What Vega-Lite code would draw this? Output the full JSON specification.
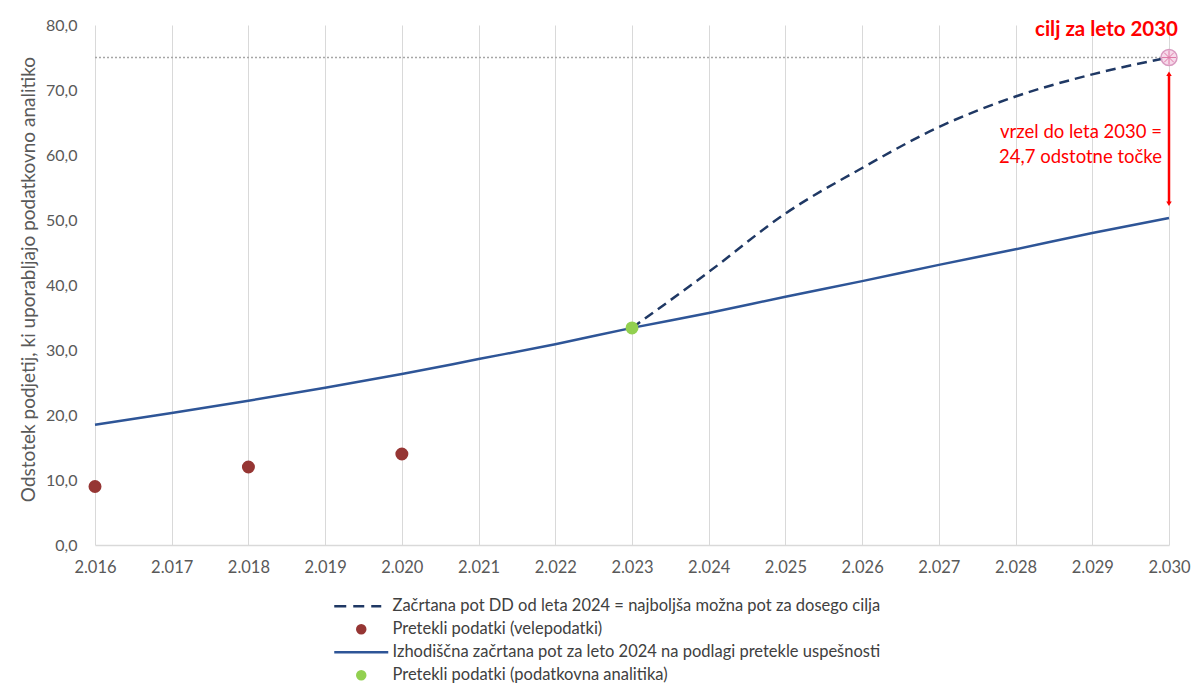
{
  "$schema": "https://vega.github.io/schema/vega-lite/v6.json",
  "autosize": "none",
  "width": 1074,
  "height": 520,
  "padding": {"left": 95, "top": 25, "right": 32, "bottom": 141},
  "background": "white",
  "config": {"view": {"stroke": null}, "font": "Lato"},
  "datasets": {
    "baseline": [
      {"year": 2016, "value": 18.5},
      {"year": 2017, "value": 20.3},
      {"year": 2018, "value": 22.2},
      {"year": 2019, "value": 24.2},
      {"year": 2020, "value": 26.3},
      {"year": 2021, "value": 28.6},
      {"year": 2022, "value": 30.9},
      {"year": 2023, "value": 33.4},
      {"year": 2024, "value": 35.7},
      {"year": 2025, "value": 38.2},
      {"year": 2026, "value": 40.6},
      {"year": 2027, "value": 43.1},
      {"year": 2028, "value": 45.5},
      {"year": 2029, "value": 48.0},
      {"year": 2030, "value": 50.3}
    ],
    "pathway": [
      {"year": 2023, "value": 33.4},
      {"year": 2024, "value": 42.0},
      {"year": 2025, "value": 51.0},
      {"year": 2026, "value": 58.0},
      {"year": 2027, "value": 64.3},
      {"year": 2028, "value": 69.0},
      {"year": 2029, "value": 72.4},
      {"year": 2030, "value": 75.0}
    ],
    "past": [
      {"year": 2016, "value": 9.0, "series": "Pretekli podatki (velepodatki)"},
      {"year": 2018, "value": 12.0, "series": "Pretekli podatki (velepodatki)"},
      {"year": 2020, "value": 14.0, "series": "Pretekli podatki (velepodatki)"},
      {"year": 2023, "value": 33.4, "series": "Pretekli podatki (podatkovna analitika)"}
    ],
    "goal": [
      {"year": 2030, "target": 75.0}
    ]
  },
  "layer": [
    {
      "data": {"name": "goal"},
      "mark": {"type": "rule", "color": "#a6a6a6", "strokeWidth": 1.5, "strokeDash": [2, 2]},
      "encoding": {
        "y": {"field": "target", "type": "quantitative", "scale": {"domain": [0, 80], "nice": false, "zero": false}}
      }
    },
    {
      "data": {"name": "baseline"},
      "mark": {"type": "line", "color": "#2e5597", "strokeWidth": 2.5, "interpolate": "monotone"},
      "encoding": {
        "x": {
          "field": "year", "type": "quantitative",
          "scale": {"domain": [2016, 2030], "nice": false, "zero": false},
          "axis": {
            "title": null,
            "values": [2016, 2017, 2018, 2019, 2020, 2021, 2022, 2023, 2024, 2025, 2026, 2027, 2028, 2029, 2030],
            "labelExpr": "substring(toString(datum.value), 0, 1) + '.' + substring(toString(datum.value), 1)",
            "labelFlush": false,
            "labelOverlap": false,
            "grid": true, "gridColor": "#d9d9d9", "gridWidth": 1,
            "domain": true, "domainColor": "#d9d9d9", "domainWidth": 1.5,
            "ticks": false,
            "labelFont": "Lato", "labelFontSize": 16.5, "labelColor": "#595959", "labelPadding": 14
          }
        },
        "y": {
          "field": "value", "type": "quantitative",
          "scale": {"domain": [0, 80], "nice": false, "zero": false},
          "axis": {
            "title": "Odstotek podjetij, ki uporabljajo podatkovno analitiko",
            "titleFont": "Lato", "titleFontSize": 19, "titleFontWeight": "normal", "titleColor": "#595959", "titlePadding": 7,
            "titleY": 254,
            "values": [0, 10, 20, 30, 40, 50, 60, 70, 80],
            "labelExpr": "replace(format(datum.value, '.1f'), '.', ',')",
            "grid": false, "domain": false, "ticks": false,
            "labelFont": "Lato", "labelFontSize": 16, "labelColor": "#595959", "labelPadding": 18
          }
        }
      }
    },
    {
      "data": {"name": "pathway"},
      "mark": {"type": "line", "color": "#1f3864", "strokeWidth": 2.5, "strokeDash": [10, 6], "interpolate": "monotone"},
      "encoding": {
        "x": {"field": "year", "type": "quantitative", "scale": {"domain": [2016, 2030], "nice": false, "zero": false}},
        "y": {"field": "value", "type": "quantitative", "scale": {"domain": [0, 80], "nice": false, "zero": false}}
      }
    },
    {
      "data": {"name": "past"},
      "mark": {"type": "point", "filled": true, "opacity": 1, "size": 121, "strokeWidth": 2},
      "encoding": {
        "x": {"field": "year", "type": "quantitative", "scale": {"domain": [2016, 2030], "nice": false, "zero": false}},
        "y": {"field": "value", "type": "quantitative", "scale": {"domain": [0, 80], "nice": false, "zero": false}},
        "fill": {
          "field": "series", "type": "nominal",
          "scale": {
            "domain": [
              "Začrtana pot DD od leta 2024 = najboljša možna pot za dosego cilja",
              "Pretekli podatki (velepodatki)",
              "Izhodiščna začrtana pot za leto 2024 na podlagi pretekle uspešnosti",
              "Pretekli podatki (podatkovna analitika)"
            ],
            "range": ["#1f3864", "#963634", "#2e5597", "#92d050"]
          },
          "legend": {
            "title": null,
            "orient": "none",
            "legendX": 258,
            "legendY": 573,
            "direction": "vertical",
            "labelFont": "Lato",
            "labelFontSize": 16.5,
            "labelColor": "#404040",
            "labelOffset": 23,
            "labelLimit": 800,
            "symbolSize": 64,
            "symbolStrokeWidth": 2.5,
            "symbolOpacity": 1,
            "rowPadding": 5
          }
        },
        "stroke": {
          "field": "series", "type": "nominal",
          "scale": {
            "domain": [
              "Začrtana pot DD od leta 2024 = najboljša možna pot za dosego cilja",
              "Pretekli podatki (velepodatki)",
              "Izhodiščna začrtana pot za leto 2024 na podlagi pretekle uspešnosti",
              "Pretekli podatki (podatkovna analitika)"
            ],
            "range": ["#1f3864", "#963634", "#2e5597", "#92d050"]
          }
        },
        "shape": {
          "field": "series", "type": "nominal",
          "scale": {
            "domain": [
              "Začrtana pot DD od leta 2024 = najboljša možna pot za dosego cilja",
              "Pretekli podatki (velepodatki)",
              "Izhodiščna začrtana pot za leto 2024 na podlagi pretekle uspešnosti",
              "Pretekli podatki (podatkovna analitika)"
            ],
            "range": [
              "M-6.75,0H-3.75M-2,0H0.75M2.5,0H5",
              "circle",
              "M-6.75,0H6.75",
              "circle"
            ]
          }
        }
      }
    },
    {
      "data": {"name": "goal"},
      "mark": {"type": "point", "shape": "circle", "filled": true, "size": 256, "fill": "#f4d3e6", "fillOpacity": 0.85, "stroke": "#d99ac0", "strokeWidth": 1.5},
      "encoding": {
        "x": {"field": "year", "type": "quantitative", "scale": {"domain": [2016, 2030], "nice": false, "zero": false}},
        "y": {"field": "target", "type": "quantitative", "scale": {"domain": [0, 80], "nice": false, "zero": false}}
      }
    },
    {
      "data": {"name": "goal"},
      "mark": {"type": "point", "shape": "M-1,0H1M0,-1V1M-0.7,-0.7L0.7,0.7M-0.7,0.7L0.7,-0.7", "filled": false, "size": 196, "stroke": "#e07aa8", "strokeWidth": 1, "opacity": 1},
      "encoding": {
        "x": {"field": "year", "type": "quantitative", "scale": {"domain": [2016, 2030], "nice": false, "zero": false}},
        "y": {"field": "target", "type": "quantitative", "scale": {"domain": [0, 80], "nice": false, "zero": false}}
      }
    },
    {
      "data": {"values": [{}]},
      "mark": {"type": "rule", "color": "#ff0000", "strokeWidth": 2.5},
      "encoding": {
        "x": {"datum": 2030, "type": "quantitative", "scale": {"domain": [2016, 2030], "nice": false, "zero": false}},
        "y": {"datum": 72.4, "type": "quantitative", "scale": {"domain": [0, 80], "nice": false, "zero": false}},
        "y2": {"datum": 52.6}
      }
    },
    {
      "data": {"values": [{}]},
      "mark": {"type": "point", "shape": "triangle-up", "filled": true, "color": "#ff0000", "size": 30, "opacity": 1},
      "encoding": {
        "x": {"datum": 2030, "type": "quantitative", "scale": {"domain": [2016, 2030], "nice": false, "zero": false}},
        "y": {"datum": 72.5, "type": "quantitative", "scale": {"domain": [0, 80], "nice": false, "zero": false}}
      }
    },
    {
      "data": {"values": [{}]},
      "mark": {"type": "point", "shape": "triangle-down", "filled": true, "color": "#ff0000", "size": 30, "opacity": 1},
      "encoding": {
        "x": {"datum": 2030, "type": "quantitative", "scale": {"domain": [2016, 2030], "nice": false, "zero": false}},
        "y": {"datum": 52.5, "type": "quantitative", "scale": {"domain": [0, 80], "nice": false, "zero": false}}
      }
    },
    {
      "data": {"values": [{}]},
      "mark": {"type": "text", "text": "cilj za leto 2030", "align": "right", "baseline": "middle", "dx": 9, "font": "Lato", "fontSize": 20.5, "fontWeight": "bold", "color": "#ff0000"},
      "encoding": {
        "x": {"datum": 2030, "type": "quantitative", "scale": {"domain": [2016, 2030], "nice": false, "zero": false}},
        "y": {"datum": 79.2, "type": "quantitative", "scale": {"domain": [0, 80], "nice": false, "zero": false}}
      }
    },
    {
      "data": {"values": [{}]},
      "mark": {"type": "text", "text": ["vrzel do leta 2030 =", "24,7 odstotne točke"], "align": "right", "baseline": "middle", "lineHeight": 25, "dx": -7, "font": "Lato", "fontSize": 18.5, "color": "#ff0000"},
      "encoding": {
        "x": {"datum": 2030, "type": "quantitative", "scale": {"domain": [2016, 2030], "nice": false, "zero": false}},
        "y": {"datum": 63.5, "type": "quantitative", "scale": {"domain": [0, 80], "nice": false, "zero": false}}
      }
    }
  ]
}
